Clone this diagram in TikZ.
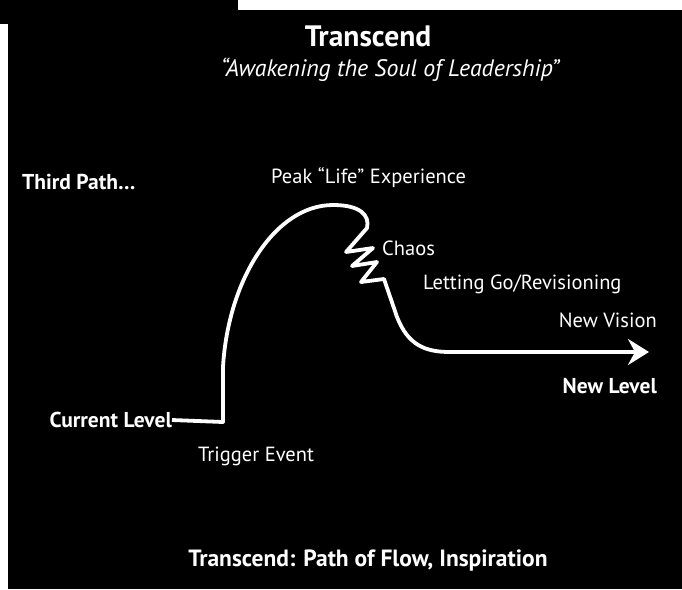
\documentclass[tikz,border=0pt]{standalone}
\usepackage{fontspec}
\setmainfont{PT Sans}
\usetikzlibrary{arrows.meta}

\begin{document}
\begin{tikzpicture}[x=1pt, y=-1pt,
    lbl/.style = {text=white, inner sep=0pt, font=\fontsize{20.5}{23}\selectfont},
    blbl/.style = {lbl, font=\fontsize{21.5}{24}\selectfont\bfseries},
    flow/.style = {white, line width=3.8pt, line join=round, -{Stealth[length=21pt, width=26pt, inset=7pt]}}]
  % background of the scan
  \fill[black] (0,0) rectangle (682,589);
  \fill[white] (238,0) rectangle (682,10);
  \fill[white] (0,24) rectangle (8,589);
  \useasboundingbox (0,0) rectangle (682,589);

  \node[blbl, font=\fontsize{29.5}{32}\selectfont\bfseries] (title) at (368,36) {Transcend};
  \node[lbl, font=\fontsize{23.8}{26}\selectfont\itshape] (sub) at (390,70) {``Awakening the Soul of Leadership''};
  \node[blbl, anchor=west] (third) at (22,182) {Third Path\ldots};
  \node[lbl, anchor=west] (peak) at (271,178) {Peak ``Life'' Experience};
  \node[lbl, anchor=west] (chaos) at (382,248) {Chaos};
  \node[lbl, anchor=west] (letting) at (423,284) {Letting Go/Revisioning};
  \node[lbl, anchor=east] (vision) at (657,320) {New Vision};
  \node[blbl, anchor=east] (newlevel) at (657,386) {New Level};
  \node[blbl, anchor=east] (current) at (172,420) {Current Level};
  \node[lbl, anchor=west] (trigger) at (198,456) {Trigger Event};
  \node[blbl, font=\fontsize{23.5}{26}\selectfont\bfseries] (bottom) at (368,560) {Transcend: Path of Flow, Inspiration};

  \coordinate (tip) at (649,352);

  % the path of flow
  \draw[flow] (current.east) -- (223,422) -- (223,367)
    .. controls (228,280) and (275,205) .. (333,205)
    .. controls (360,205) and (370,215) .. (367,228)
    -- (346,252) -- (373,248) -- (352,266) -- (377,262) -- (361,282) -- (384,279)
    -- (397,317) .. controls (408,345) and (425,352) .. (450,352) -- (tip);
\end{tikzpicture}
\end{document}
